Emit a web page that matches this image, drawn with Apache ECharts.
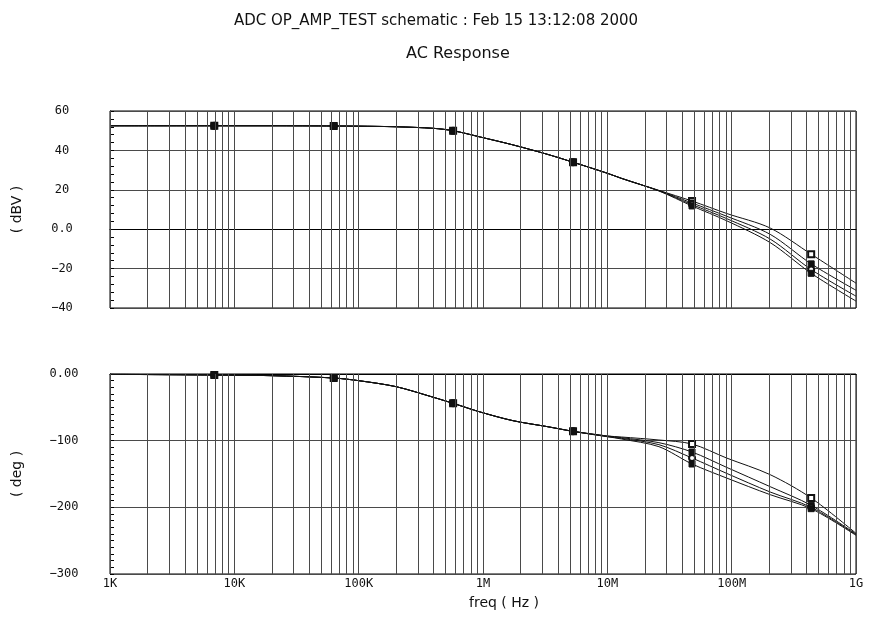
<!DOCTYPE html>
<html>
<head>
<meta charset="utf-8">
<script src="https://cdn.jsdelivr.net/npm/echarts@6/dist/echarts.min.js"></script>
<style>
  html, body { margin: 0; padding: 0; background: #fff; }
  #chart { width: 872px; height: 618px; }
</style>
</head>
<body>
<div id="chart"></div>
<script>
// frequencies (Hz) shared by every trace
var freqs = [1e3, 6.9e3, 2e4, 6.3e4, 1e5, 2e5, 4e5, 5.75e5, 9.5e5, 1.74e6, 3.3e6, 5.3e6, 1e7, 1.3e7, 2.6e7, 4.8e7, 9.1e7, 2.04e8, 4.36e8, 1e9];
// indices of freqs where the trace markers sit
var markIdx = [1, 3, 7, 11, 15, 18];

// magnitude (dBV), 4 traces
var mag1 = [52.5, 52.5, 52.5, 52.4, 52.3, 52.0, 51.2, 50.0, 46.8, 42.8, 38.0, 34.0, 28.4, 25.8, 19.7, 14.3, 8.0, 0.6, -12.7, -27.4];
var mag2 = [52.5, 52.5, 52.5, 52.4, 52.3, 52.0, 51.2, 50.0, 46.8, 42.8, 38.0, 34.0, 28.4, 25.8, 19.6, 13.3, 6.6, -2.6, -17.6, -31.0];
var mag3 = [52.5, 52.5, 52.5, 52.4, 52.3, 52.0, 51.2, 50.0, 46.8, 42.8, 38.0, 34.0, 28.4, 25.8, 19.5, 12.5, 5.4, -5.0, -20.5, -34.0];
var mag4 = [52.5, 52.5, 52.5, 52.4, 52.3, 52.0, 51.2, 50.0, 46.8, 42.8, 38.0, 34.0, 28.4, 25.8, 19.4, 11.8, 4.3, -6.8, -22.4, -36.5];

// phase (deg), 4 traces
var ph1 = [-0.5, -1.5, -2.5, -6, -10, -19, -35, -44, -57, -70, -79, -86, -93, -94.5, -99, -105, -126, -151, -186, -239];
var ph2 = [-0.5, -1.5, -2.5, -6, -10, -19, -35, -44, -57, -70, -79, -86, -93, -95.5, -103, -117, -140, -169, -197, -240];
var ph3 = [-0.5, -1.5, -2.5, -6, -10, -19, -35, -44, -57, -70, -79, -86, -94, -96.5, -106, -126, -149, -177, -200, -241];
var ph4 = [-0.5, -1.5, -2.5, -6, -10, -19, -35, -44, -57, -70, -79, -86, -94, -97.5, -109, -135, -156, -181, -202, -242];

var xTickLabels = ['1K', '10K', '100K', '1M', '10M', '100M', '1G'];
var magTraces = [mag1, mag2, mag3, mag4];
var phTraces = [ph1, ph2, ph3, ph4];
var symbols = ['emptyRect', 'rect', 'emptyCircle', 'rect'];

var gridColor = '#4a4a4a';
var monoFont = 'DejaVu Sans Mono';

// log grid lines: 2..9 of every decade plus the decades
var gridFreqs = [];
for (var d = 1e3; d < 1e9; d *= 10) {
  for (var k = 1; k <= 9; k++) gridFreqs.push(d * k);
}

function fmtMinus(s) { return String(s).replace('-', '\u2212'); }

function makeSeries(traces, gi) {
  return traces.map(function (vals, t) {
    var s = {
      type: 'line',
      xAxisIndex: gi,
      yAxisIndex: gi,
      smooth: 0.3,
      showSymbol: true,
      showAllSymbol: true,
      symbolSize: 6,
      lineStyle: { color: '#111', width: 1 },
      itemStyle: { color: '#111', borderColor: '#111', borderWidth: 1 },
      emphasis: { disabled: true },
      data: freqs.map(function (f, i) {
        return {
          value: [f, vals[i]],
          symbol: markIdx.indexOf(i) >= 0 ? symbols[t] : 'none'
        };
      })
    };
    if (t === 0) {
      s.markLine = {
        silent: true,
        symbol: 'none',
        label: { show: false },
        lineStyle: { color: gridColor, width: 1, type: 'solid' },
        data: gridFreqs.map(function (f) { return { xAxis: f }; })
      };
    }
    return s;
  });
}

var chart = echarts.init(document.getElementById('chart'));
chart.setOption({
  animation: false,
  backgroundColor: '#fff',
  title: [
    {
      text: 'ADC OP_AMP_TEST schematic : Feb 15 13:12:08 2000',
      left: 'center', top: 9,
      textStyle: { fontSize: 15, fontWeight: 'normal', fontFamily: 'DejaVu Sans', color: '#111' }
    },
    {
      text: 'AC Response',
      left: 401, top: 41,
      textStyle: { fontSize: 16, fontWeight: 'normal', fontFamily: 'DejaVu Sans', color: '#111' }
    },
    {
      text: 'freq ( Hz )',
      left: 464, top: 591,
      textStyle: { fontSize: 14, fontWeight: 'normal', fontFamily: 'DejaVu Sans', color: '#111' }
    }
  ],
  grid: [
    { left: 110, top: 111, width: 746, height: 197, show: true, borderColor: '#000', borderWidth: 1, backgroundColor: '#fff' },
    { left: 110, top: 374, width: 746, height: 200, show: true, borderColor: '#000', borderWidth: 1, backgroundColor: '#fff' }
  ],
  xAxis: [
    {
      type: 'log', logBase: 10, gridIndex: 0, min: 1e3, max: 1e9, splitNumber: 6,
      axisLine: { lineStyle: { color: '#000' } },
      axisTick: { show: false },
      axisLabel: { show: false },
      splitLine: { show: true, lineStyle: { color: gridColor } }
    },
    {
      type: 'log', logBase: 10, gridIndex: 1, min: 1e3, max: 1e9, splitNumber: 6,
      axisLine: { lineStyle: { color: '#000' } },
      axisTick: { show: false },
      splitLine: { show: true, lineStyle: { color: gridColor } },
      axisLabel: {
        margin: 4, fontSize: 12, fontFamily: monoFont, color: '#111',
        formatter: function (v) { return xTickLabels[Math.round(Math.log10(v)) - 3]; }
      }
    }
  ],
  yAxis: [
    {
      type: 'value', gridIndex: 0, min: -40, max: 60, interval: 20,
      name: '( dBV )', nameLocation: 'middle', nameGap: 86, nameRotate: 90,
      nameTextStyle: { fontSize: 14, fontFamily: 'DejaVu Sans', color: '#111' },
      axisLine: { show: true, lineStyle: { color: '#000' } },
      axisTick: { show: true, inside: true, length: 4, lineStyle: { color: '#000' } },
      minorTick: { show: true, splitNumber: 5, length: 4, lineStyle: { color: '#000' } },
      splitLine: { show: true, lineStyle: { color: gridColor } },
      axisLabel: {
        margin: 48, align: 'center', fontSize: 12, fontFamily: monoFont, color: '#111',
        formatter: function (v) { return v === 0 ? '0.0' : fmtMinus(v); }
      }
    },
    {
      type: 'value', gridIndex: 1, min: -300, max: 0, interval: 100,
      name: '( deg )', nameLocation: 'middle', nameGap: 86, nameRotate: 90,
      nameTextStyle: { fontSize: 14, fontFamily: 'DejaVu Sans', color: '#111' },
      axisLine: { show: true, lineStyle: { color: '#000' } },
      axisTick: { show: true, inside: true, length: 4, lineStyle: { color: '#000' } },
      minorTick: { show: true, splitNumber: 10, length: 4, lineStyle: { color: '#000' } },
      splitLine: { show: true, lineStyle: { color: gridColor } },
      axisLabel: {
        margin: 46, align: 'center', fontSize: 12, fontFamily: monoFont, color: '#111',
        formatter: function (v) { return v === 0 ? '0.00' : fmtMinus(v); }
      }
    }
  ],
  series: makeSeries(magTraces, 0).concat(makeSeries(phTraces, 1))
});
</script>
</body>
</html>
